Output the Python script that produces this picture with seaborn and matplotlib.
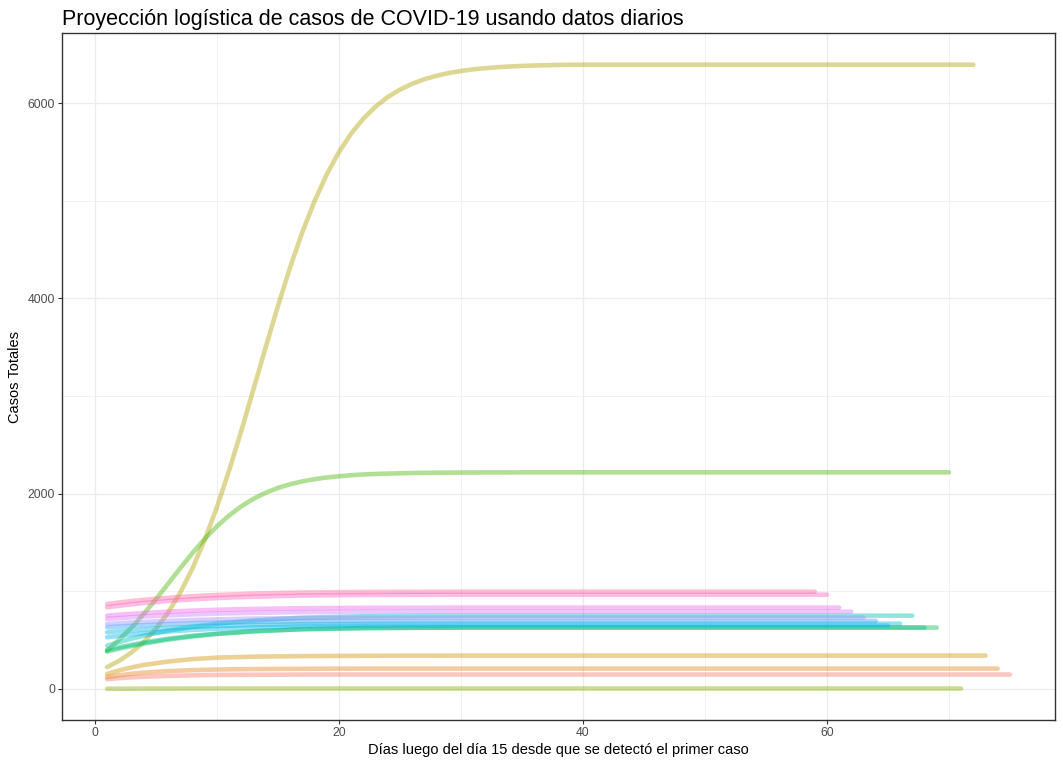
import seaborn as sns
import matplotlib.pyplot as plt
import numpy as np
import pandas as pd

# dias en que se leyeron los valores de las curvas pequenas
dias_clave = [1, 2, 3, 4, 6, 8, 10, 13, 17, 22, 30]
# dias diarios para las dos curvas grandes
dias_diarios = list(range(1, 41))
# ultimo dia de cada serie (orden de color de ggplot)
dias_fin = [75, 74, 73, 72, 71, 70, 69, 68, 67, 66, 65, 64, 63, 62, 61, 60, 59]

casos_s01 = [100, 110, 118, 124, 133, 139, 143, 145, 147, 147, 147]
casos_s02 = [120, 140, 155, 167, 182, 192, 198, 203, 206, 208, 208]
casos_s03 = [153, 190, 220, 245, 280, 305, 320, 330, 336, 339, 341]
casos_s04 = [223, 289, 373, 480, 615, 782, 987, 1235, 1526, 1861,
             2237, 2643, 3070, 3500, 3920, 4317, 4677, 4994, 5268, 5498,
             5687, 5840, 5963, 6061, 6137, 6197, 6244, 6279, 6307, 6328,
             6345, 6357, 6367, 6374, 6380, 6384, 6387, 6390, 6392, 6393]
casos_s05 = [1, 2, 2, 3, 3, 4, 4, 4, 4, 4, 4]
casos_s06 = [390, 506, 628, 767, 918, 1077, 1237, 1392, 1536, 1665,
             1776, 1870, 1947, 2009, 2058, 2096, 2125, 2148, 2165, 2178,
             2188, 2196, 2201, 2205, 2208, 2211, 2213, 2214, 2215, 2216,
             2216, 2217, 2217, 2217, 2218, 2218, 2218, 2218, 2218, 2218]
casos_s07 = [382, 412, 439, 463, 505, 537, 562, 589, 611, 623, 628]
casos_s08 = [400, 427, 452, 475, 514, 544, 566, 592, 612, 623, 628]
casos_s09 = [443, 480, 514, 544, 597, 636, 667, 701, 729, 744, 750]
casos_s10 = [580, 591, 600, 609, 624, 635, 644, 654, 662, 666, 668]
casos_s11 = [529, 543, 556, 568, 588, 604, 616, 629, 640, 646, 648]
casos_s12 = [631, 639, 646, 652, 663, 672, 678, 686, 691, 695, 696]
casos_s13 = [665, 673, 680, 686, 697, 706, 712, 720, 725, 729, 730]
casos_s14 = [716, 725, 733, 741, 753, 763, 771, 779, 786, 789, 791]
casos_s15 = [750, 760, 769, 777, 791, 802, 810, 819, 826, 830, 832]
casos_s16 = [836, 851, 866, 879, 900, 917, 930, 944, 956, 962, 965]
casos_s17 = [870, 885, 899, 912, 933, 949, 962, 976, 987, 993, 996]

series = [casos_s01, casos_s02, casos_s03, casos_s04, casos_s05, casos_s06,
          casos_s07, casos_s08, casos_s09, casos_s10, casos_s11, casos_s12,
          casos_s13, casos_s14, casos_s15, casos_s16, casos_s17]

filas = []
for i, (vals, fin) in enumerate(zip(series, dias_fin)):
    dias = dias_diarios if len(vals) == len(dias_diarios) else dias_clave
    for d, v in zip(dias, vals):
        filas.append((f"s{i + 1:02d}", d, v))
    # la proyeccion sigue plana hasta su ultimo dia
    filas.append((f"s{i + 1:02d}", fin, vals[-1]))
df = pd.DataFrame(filas, columns=["serie", "dia", "casos"])


def hcl_hex(h, c=100, l=65):
    # paleta de tonos de ggplot (hcl de R)
    h = np.deg2rad(h)
    u, v = c * np.cos(h), c * np.sin(h)
    xn, yn, zn = 95.047, 100.0, 108.883
    y = yn * ((l + 16) / 116) ** 3
    un = 4 * xn / (xn + 15 * yn + 3 * zn)
    vn = 9 * yn / (xn + 15 * yn + 3 * zn)
    up = u / (13 * l) + un
    vp = v / (13 * l) + vn
    x = y * 9 * up / (4 * vp)
    z = y * (12 - 3 * up - 20 * vp) / (4 * vp)
    m = np.array([[3.240479, -1.537150, -0.498535],
                  [-0.969256, 1.875992, 0.041556],
                  [0.055648, -0.204043, 1.057311]])
    rgb = m @ np.array([x, y, z]) / 100
    rgb = np.where(rgb <= 0.0031308, 12.92 * rgb, 1.055 * np.clip(rgb, 0, None) ** (1 / 2.4) - 0.055)
    rgb = np.clip(rgb, 0, 1)
    return "#" + "".join(f"{int(round(c * 255)):02X}" for c in rgb)


n = len(series)
colores = [hcl_hex(15 + k * 360 / n) for k in range(n)]

sns.set_theme(style="white")
plt.rcParams['font.family'] = ['Liberation Sans', 'DejaVu Sans']

f = plt.figure(figsize=(10.63, 7.66), dpi=100)
ax = f.add_axes([0.0583, 0.0600, 0.9342, 0.8969])

sns.lineplot(data=df, x="dia", y="casos", hue="serie", palette=colores,
             legend=False, alpha=0.42, linewidth=3.3, estimator=None, ax=ax)

ax.set_xlim(-2.7, 78.7)
ax.set_ylim(-319, 6717)
ax.set_xticks([0, 20, 40, 60])
ax.set_xticks([10, 30, 50, 70], minor=True)
ax.set_yticks([0, 2000, 4000, 6000])
ax.set_yticks([1000, 3000, 5000], minor=True)
ax.grid(True, which="major", color="#EBEBEB", linewidth=0.9)
ax.grid(True, which="minor", color="#EBEBEB", linewidth=0.5)
ax.set_axisbelow(True)
for s in ax.spines.values():
    s.set_color("#333333")
    s.set_linewidth(1.0)
ax.tick_params(axis="both", which="major", length=3, width=0.8, color="#333333",
               labelcolor="#4D4D4D", labelsize=8.8, pad=2, bottom=True, left=True)
ax.tick_params(axis="both", which="minor", length=0)

ax.set_xlabel("Días luego del día 15 desde que se detectó el primer caso", fontsize=10.5, color="black", labelpad=3)
ax.set_ylabel("Casos Totales", fontsize=10.5, color="black", labelpad=4)
ax.set_title("Proyección logística de casos de COVID-19 usando datos diarios",
             loc="left", fontsize=15.5, color="black", pad=6)

f.savefig("out.png", dpi=100)
